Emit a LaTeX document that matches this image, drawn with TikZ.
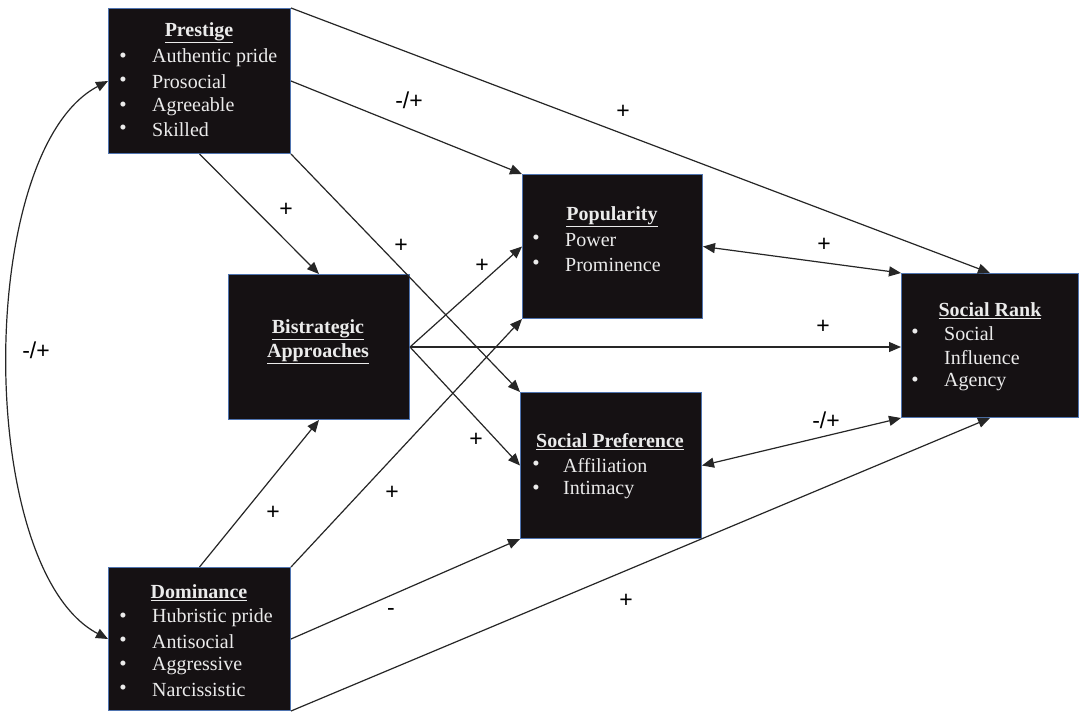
\documentclass[tikz,border=0pt]{standalone}
\usepackage{fontspec}
\setmainfont{Liberation Serif}
\newfontfamily\lsans{Liberation Sans}
\usetikzlibrary{arrows.meta}
\definecolor{boxfill}{HTML}{151113}
\definecolor{boxline}{HTML}{4F74B0}
\definecolor{txtc}{HTML}{EBEBEB}
\definecolor{conn}{HTML}{262626}
\begin{document}
\begin{tikzpicture}[x=1pt,y=-1pt,
  box/.style={draw=boxline, line width=1pt, fill=boxfill, inner sep=0pt, anchor=north west},
  ttl/.style={text=txtc, inner sep=0pt, font=\fontsize{20}{24}\selectfont\bfseries},
  itm/.style={text=txtc, inner sep=0pt, anchor=west, font=\fontsize{20}{24}\selectfont},
  bul/.style={text=txtc, inner sep=0pt, font=\fontsize{21}{21}\selectfont},
  lbl/.style={inner sep=0pt, text=black, font=\fontsize{23}{23}\selectfont\lsans},
  arr/.style={draw=conn, line width=1.2pt, -{Triangle[length=12pt,width=10pt]}},
  darr/.style={draw=conn, line width=1.2pt, {Triangle[length=12pt,width=10pt]}-{Triangle[length=12pt,width=10pt]}}
]
\useasboundingbox (0,0) rectangle (1080,713);
\fill[white] (0,0) rectangle (1080,713);

% boxes
\node[box, minimum width=182pt, minimum height=145pt] (prest) at (108,8) {};
\node[box, minimum width=181pt, minimum height=145pt] (bist) at (228,274) {};
\node[box, minimum width=180pt, minimum height=144pt] (pop) at (522,174) {};
\node[box, minimum width=181pt, minimum height=146pt] (pref) at (520,392) {};
\node[box, minimum width=177pt, minimum height=144pt] (rank) at (901,273) {};
\node[box, minimum width=182pt, minimum height=143pt] (dom) at (108,567) {};

% Prestige text
\node[ttl] (prestT) at (199,33) {\underline{Prestige}};
\node[bul] (pb1) at (123,58) {•};
\node[itm] (pi1) at (152,58) {Authentic pride};
\node[bul] (pb2) at (123,82) {•};
\node[itm] (pi2) at (152,82) {Prosocial};
\node[bul] (pb3) at (123,107) {•};
\node[itm] (pi3) at (152,107) {Agreeable};
\node[bul] (pb4) at (123,130) {•};
\node[itm] (pi4) at (152,130) {Skilled};

% Bistrategic
\node[ttl, align=center] (bistT) at (318,342) {\underline{Bistrategic}\\\underline{Approaches}};

% Popularity
\node[ttl] (popT) at (612,217) {\underline{Popularity}};
\node[bul] (ob1) at (536,240) {•};
\node[itm] (oi1) at (565,240) {Power};
\node[bul] (ob2) at (536,265) {•};
\node[itm] (oi2) at (565,265) {Prominence};

% Social Preference
\node[ttl] (prefT) at (610,442) {\underline{Social Preference}};
\node[bul] (fb1) at (536,466) {•};
\node[itm] (fi1) at (563,466) {Affiliation};
\node[bul] (fb2) at (536,490) {•};
\node[itm] (fi2) at (563,490) {Intimacy};

% Social Rank
\node[ttl] (rankT) at (990,311) {\underline{Social Rank}};
\node[bul] (rb1) at (915,334) {•};
\node[itm] (ri1) at (944,334) {Social};
\node[itm] (ri2) at (944,358) {Influence};
\node[bul] (rb2) at (915,382) {•};
\node[itm] (ri3) at (944,382) {Agency};

% Dominance
\node[ttl] (domT) at (199,593) {\underline{Dominance}};
\node[bul] (db1) at (123,618) {•};
\node[itm] (di1) at (152,618) {Hubristic pride};
\node[bul] (db2) at (123,642) {•};
\node[itm] (di2) at (152,642) {Antisocial};
\node[bul] (db3) at (123,666) {•};
\node[itm] (di3) at (152,666) {Aggressive};
\node[bul] (db4) at (123,690) {•};
\node[itm] (di4) at (152,690) {Narcissistic};

% connectors
\draw[arr] (prest.north east) -- (rank.north);
\draw[arr] (prest.east) -- (pop.north west);
\draw[arr] (prest.south) -- (bist.north);
\draw[arr] (prest.south east) -- (pref.north west);
\draw[arr] (bist.east) -- (pop.west);
\draw[arr] (bist.east) -- (pref.west);
\draw[arr] (bist.east) -- (bist.east -| rank.west);
\draw[arr] (dom.north) -- (bist.south);
\draw[arr] (dom.north east) -- (pop.south west);
\draw[arr] (dom.east) -- (pref.south west);
\draw[arr] (dom.south east) -- (rank.south);
\draw[darr] (pop.east) -- (rank.north west);
\draw[darr] (pref.east) -- (rank.south west);
\draw[darr] (prest.west) .. controls +(-133,70) and +(-133,-70) .. (dom.west);

% labels
\node[lbl] (l1) at (623,112) {+};
\node[lbl] (l2) at (409,100) {-/+};
\node[lbl] (l3) at (286,210) {+};
\node[lbl] (l4) at (401,246) {+};
\node[lbl] (l5) at (482,266) {+};
\node[lbl] (l6) at (476,440) {+};
\node[lbl] (l7) at (823,327) {+};
\node[lbl] (l8) at (273,513) {+};
\node[lbl] (l9) at (392,493) {+};
\node[lbl] (l10) at (391,612) {-};
\node[lbl] (l11) at (626,601) {+};
\node[lbl] (l12) at (824,245) {+};
\node[lbl] (l13) at (826,420) {-/+};
\node[lbl] (l14) at (36,350) {-/+};
\end{tikzpicture}
\end{document}
